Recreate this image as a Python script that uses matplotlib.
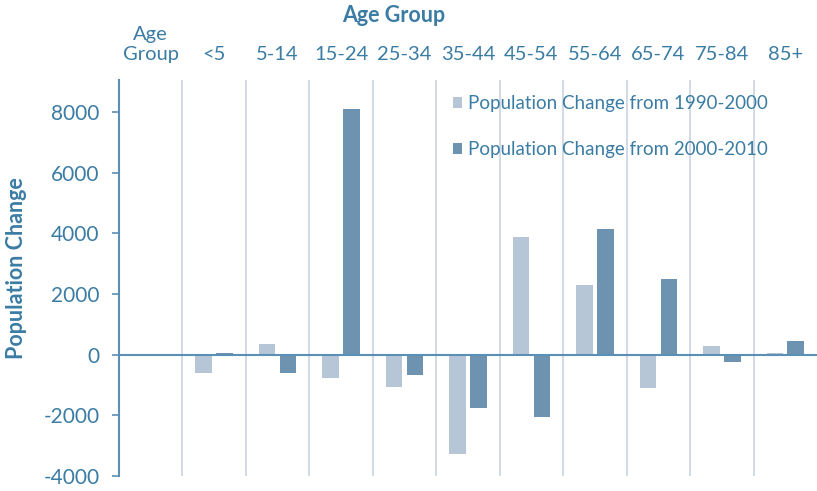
import matplotlib

matplotlib.use("Agg")

import matplotlib.pyplot as plt
import numpy as np

# ---- data ----
age_groups = ["Age\nGroup", "<5", "5-14", "15-24", "25-34", "35-44",
              "45-54", "55-64", "65-74", "75-84", "85+"]
change_1990_2000 = [0, -600, 340, -760, -1060, -3270, 3880, 2300, -1100, 270, 60]
change_2000_2010 = [0, 50, -600, 8100, -660, -1765, -2060, 4150, 2500, -240, 450]
series_names = ["Population Change from 1990-2000", "Population Change from 2000-2010"]
y_ticks = [-4000, -2000, 0, 2000, 4000, 6000, 8000]

# ---- style ----
TEXT = "#3b7ca4"
AXIS = "#5b90b6"
GRID = "#c9d3e1"
LIGHT = "#b7c6d7"
DARK = "#6d93b0"

plt.rcParams["font.family"] = ["Lato", "DejaVu Sans"]

fig = plt.figure(figsize=(8.17, 4.91), dpi=100)
ax = fig.add_axes([119 / 817, 1 - 476 / 491, 1 - 119 / 817, (476 - 80) / 491])

x = np.arange(len(age_groups))
w = 0.26
off = 0.165
# first column ("Age Group") has no bars
ax.bar(x[1:] - off, change_1990_2000[1:], w, color=LIGHT, label=series_names[0], zorder=3)
ax.bar(x[1:] + off, change_2000_2010[1:], w, color=DARK, label=series_names[1], zorder=3)

ax.set_xlim(-0.5, len(age_groups) - 0.5)
ax.set_ylim(-4000, 9050)

# vertical separators between groups
for b in x[:-1] + 0.5:
    ax.axvline(b, color=GRID, lw=1.2, zorder=1)
ax.axhline(0, color=AXIS, lw=1.5, zorder=4)

ax.xaxis.tick_top()
ax.set_xticks(x)
ax.set_xticklabels(age_groups, color=TEXT, fontsize=14.5, linespacing=1.25)
ax.tick_params(axis="x", length=0, pad=12)

ax.set_yticks(y_ticks)
ax.set_yticklabels([str(t) for t in y_ticks], color=TEXT, fontsize=15)
ax.tick_params(axis="y", length=5, width=1.2, color=AXIS, pad=9)

for s in ["top", "right", "bottom"]:
    ax.spines[s].set_visible(False)
ax.spines["left"].set_color(AXIS)
ax.spines["left"].set_linewidth(1.5)

fig.text(394 / 817, 1 - 16 / 491, "Age Group", color=TEXT, fontsize=15.5,
         fontweight="bold", ha="center", va="center")
fig.text(17 / 817, 1 - 268 / 491, "Population Change", color=TEXT, fontsize=15.5,
         fontweight="bold", ha="center", va="center", rotation=90)

leg = ax.legend(loc="upper left", bbox_to_anchor=(453 / 817, 1 - 95 / 491),
                bbox_transform=fig.transFigure, frameon=False, fontsize=13.5,
                handlelength=0.5, handleheight=0.5, handletextpad=0.3,
                labelspacing=1.55, borderpad=0, borderaxespad=0)
for t in leg.get_texts():
    t.set_color(TEXT)

fig.savefig("out.png", dpi=100)
